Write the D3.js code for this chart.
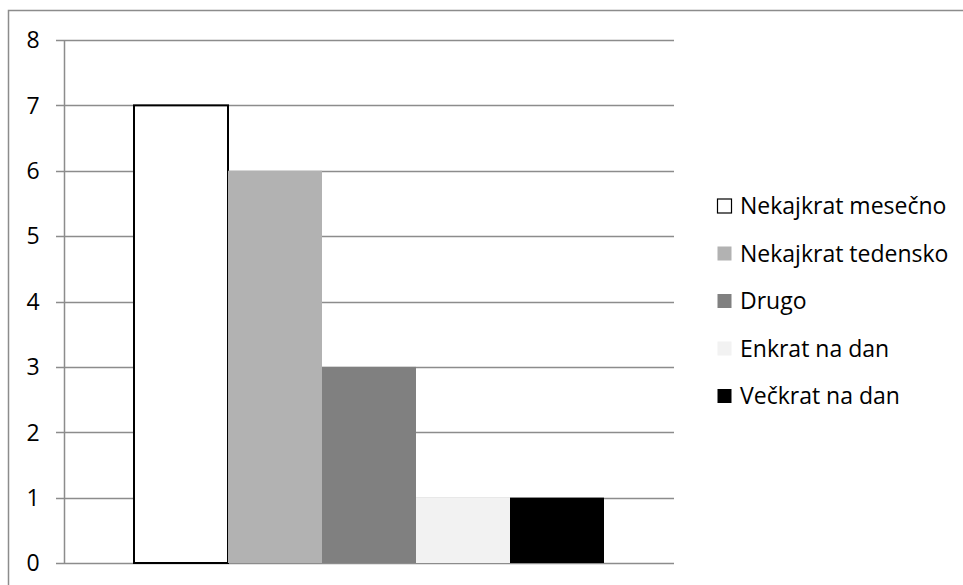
<!DOCTYPE html>
<html>
<head>
<meta charset="utf-8">
<script src="https://cdn.jsdelivr.net/npm/d3@7"></script>
<style>
  html, body { margin: 0; padding: 0; background: #fff; }
  svg { display: block; }
  text { font-family: "Open Sans", "Liberation Sans", sans-serif; fill: #000; }
</style>
</head>
<body>
<svg id="chart" width="963" height="585"></svg>
<script>
// Frequency answers (single category, one bar per series)
const seriesNames = ["Nekajkrat mesečno", "Nekajkrat tedensko", "Drugo", "Enkrat na dan", "Večkrat na dan"];
const seriesValues = [7, 6, 3, 1, 1];
const seriesColors = ["#ffffff", "#b2b2b2", "#808080", "#f2f2f2", "#000000"];
const yTicks = [0, 1, 2, 3, 4, 5, 6, 7, 8];

const svg = d3.select("#chart");
const W = 963, H = 585;
const plot = { left: 64, right: 674, top: 40, bottom: 563 };

// outer chart frame
svg.append("rect")
  .attr("x", 8.5).attr("y", 10.5)
  .attr("width", W + 10).attr("height", H + 10)
  .attr("fill", "none").attr("stroke", "#8c8c8c").attr("stroke-width", 1.5);

const y = d3.scaleLinear().domain([0, 8]).range([plot.bottom, plot.top]);
const x = d3.scaleBand().domain(seriesNames)
  .range([plot.left + 70, plot.right - 70]).paddingInner(0).paddingOuter(0);

// gridlines
svg.append("g").selectAll("line").data(yTicks).join("line")
  .attr("x1", plot.left - 8).attr("x2", plot.right)
  .attr("y1", d => Math.round(y(d)) + 0.5).attr("y2", d => Math.round(y(d)) + 0.5)
  .attr("stroke", "#8c8c8c").attr("stroke-width", 1.5);

// y axis line
svg.append("line")
  .attr("x1", plot.left + 0.5).attr("x2", plot.left + 0.5)
  .attr("y1", plot.top).attr("y2", plot.bottom)
  .attr("stroke", "#8c8c8c").attr("stroke-width", 1.5);

// tick labels
svg.append("g").selectAll("text").data(yTicks).join("text")
  .attr("x", 33).attr("y", d => y(d))
  .attr("dy", "0.36em")
  .attr("text-anchor", "middle")
  .attr("font-size", 23)
  .text(d => d);

// bars
svg.append("g").selectAll("rect").data(seriesNames).join("rect")
  .attr("x", d => x(d))
  .attr("y", (d, i) => y(seriesValues[i]))
  .attr("width", x.bandwidth())
  .attr("height", (d, i) => y(0) - y(seriesValues[i]))
  .attr("fill", (d, i) => seriesColors[i])
  .attr("stroke", (d, i) => i === 0 ? "#000" : "none")
  .attr("stroke-width", 2);

// legend
const lg = svg.append("g").selectAll("g").data(seriesNames).join("g")
  .attr("transform", (d, i) => `translate(717, ${206 + i * 47.5})`);
lg.append("rect")
  .attr("x", 0.5).attr("y", -7).attr("width", 14).attr("height", 14)
  .attr("fill", (d, i) => seriesColors[i])
  .attr("stroke", (d, i) => i === 0 ? "#000" : "none")
  .attr("stroke-width", 1.2);
lg.append("text")
  .attr("x", 23).attr("y", 0).attr("dy", "0.36em")
  .attr("font-size", 23)
  .text(d => d);
</script>
</body>
</html>
